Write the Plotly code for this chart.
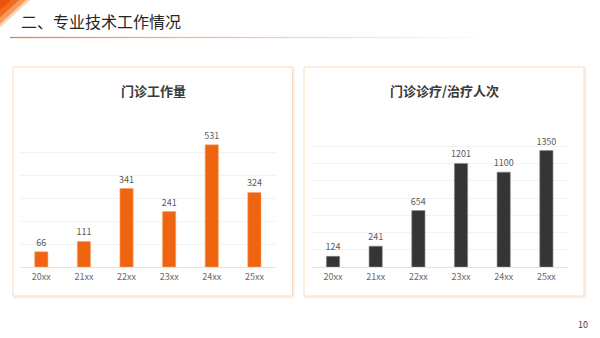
import plotly.graph_objects as go

# Data
years = ["20xx", "21xx", "22xx", "23xx", "24xx", "25xx"]
outpatient_work = [66, 111, 341, 241, 531, 324]
outpatient_visits = [124, 241, 654, 1201, 1100, 1350]

page_title = "二、专业技术工作情况"
left_title = "门诊工作量"
right_title = "门诊诊疗/治疗人次"
page_number = "10"

W, H = 600, 338
FONT = "Noto Sans CJK SC"


def px(x):
    return x / W


def py(y):
    return 1 - y / H


fig = go.Figure()

fig.add_trace(go.Bar(
    x=years, y=outpatient_work, xaxis="x", yaxis="y",
    marker=dict(color="#ef6410", line=dict(color="#f6a46a", width=0.6)),
    width=0.31,
    text=[str(v) for v in outpatient_work], textposition="outside",
    constraintext="none",
    textfont=dict(size=9, color="#5a5a5a", family=FONT),
    cliponaxis=False, hoverinfo="skip",
))
fig.add_trace(go.Bar(
    x=years, y=outpatient_visits, xaxis="x2", yaxis="y2",
    marker=dict(color="#353535", line=dict(color="#8a8a8a", width=0.6)),
    width=0.31,
    text=[str(v) for v in outpatient_visits], textposition="outside",
    constraintext="none",
    textfont=dict(size=9, color="#5a5a5a", family=FONT),
    cliponaxis=False, hoverinfo="skip",
))

ydom = [py(267), py(129)]
xcommon = dict(showgrid=False, zeroline=False, showline=False, ticks="",
               ticklabelstandoff=3,
               tickfont=dict(size=9, color="#6a6a6a", family=FONT), fixedrange=True)
ycommon = dict(showgrid=True, gridcolor="#f3f3f3", gridwidth=1, zeroline=True,
               zerolinecolor="#e2e2e2", zerolinewidth=1.2, showticklabels=False,
               ticks="", fixedrange=True)

shapes = []
# Panel frames
for x0, x1 in [(13, 292.5), (304, 584)]:
    shapes.append(dict(type="rect", xref="paper", yref="paper",
                       x0=px(x0 + 1.5), x1=px(x1 + 1.5), y0=py(297.5), y1=py(68.5),
                       line=dict(color="rgba(240,200,170,0.25)", width=2), layer="below"))
    shapes.append(dict(type="rect", xref="paper", yref="paper",
                       x0=px(x0), x1=px(x1), y0=py(296), y1=py(67),
                       line=dict(color="#f8d9c2", width=1), fillcolor="white", layer="below"))

# Corner accent triangles
for size, color in [(30, "#fbd2b4"), (26, "#f59a5a"), (19, "#ef6c1f"), (11, "#e9520c")]:
    shapes.append(dict(type="path", xref="paper", yref="paper",
                       path=f"M {px(0)} {py(0)} L {px(size)} {py(0)} L {px(0)} {py(size * 0.92)} Z",
                       fillcolor=color, line=dict(width=0), layer="below"))

# Header rule fading to the right
n = 40
x_start, x_end = 10, 500
for i in range(n):
    t = i / (n - 1)
    r = int(238 + (255 - 238) * t)
    g = int(120 + (255 - 120) * t ** 0.8)
    b = int(70 + (255 - 70) * t ** 0.8)
    xa = x_start + (x_end - x_start) * i / n
    xb = x_start + (x_end - x_start) * (i + 1) / n
    shapes.append(dict(type="line", xref="paper", yref="paper",
                       x0=px(xa), x1=px(xb), y0=py(37.5), y1=py(37.5),
                       line=dict(color=f"rgb({r},{g},{b})", width=1.3)))

annotations = [
    dict(text=page_title, xref="paper", yref="paper", x=px(19), y=py(20.5),
         xanchor="left", yanchor="middle", showarrow=False,
         font=dict(size=16, color="#262626", family=FONT)),
    dict(text=f"<b>{left_title}</b>", xref="paper", yref="paper", x=px(153), y=py(90),
         xanchor="center", yanchor="middle", showarrow=False,
         font=dict(size=13, color="#3a3a3a", family=FONT)),
    dict(text=f"<b>{right_title}</b>", xref="paper", yref="paper", x=px(444), y=py(90),
         xanchor="center", yanchor="middle", showarrow=False,
         font=dict(size=13, color="#3a3a3a", family=FONT)),
    dict(text=page_number, xref="paper", yref="paper", x=px(583), y=py(324),
         xanchor="center", yanchor="middle", showarrow=False,
         font=dict(size=9, color="#404040", family=FONT)),
]

fig.update_layout(
    width=W, height=H,
    margin=dict(l=0, r=0, t=0, b=0),
    paper_bgcolor="white", plot_bgcolor="rgba(0,0,0,0)",
    showlegend=False, bargap=0.69,
    font=dict(family=FONT),
    xaxis=dict(domain=[px(20), px(275.7)], **xcommon),
    yaxis=dict(domain=ydom, range=[0, 600], dtick=100, **ycommon),
    xaxis2=dict(domain=[px(311.7), px(567.7)], anchor="y2", **xcommon),
    yaxis2=dict(domain=ydom, range=[0, 1600], dtick=200, anchor="x2", **ycommon),
    shapes=shapes,
    annotations=annotations,
)

fig.write_html("out.html")
